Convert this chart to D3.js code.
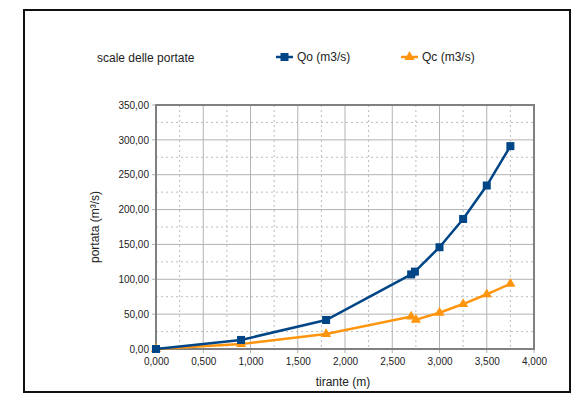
<!DOCTYPE html>
<html><head><meta charset="utf-8">
<script src="https://cdn.jsdelivr.net/npm/d3@7"></script>
<style>body{margin:0;background:#fff}svg{display:block;font-family:"Liberation Sans",Arial,sans-serif}</style>
</head><body>
<script>
const tirante = [0, 0.9, 1.8, 2.7, 2.74, 3.0, 3.25, 3.5, 3.75];
const qo = [0, 13, 41.6, 107, 111, 146, 186.5, 234.5, 291];
const qcX = [0, 0.9, 1.8, 2.7, 2.75, 3.0, 3.25, 3.5, 3.75];
const qc = [0, 7, 21.5, 46.5, 42, 52, 64.5, 78.5, 93.5];
const xTicks = [0, 0.5, 1, 1.5, 2, 2.5, 3, 3.5, 4];
const yTicks = [0, 50, 100, 150, 200, 250, 300, 350];
const seriesNames = ["Qo (m3/s)", "Qc (m3/s)"];
const colors = ["#004586", "#ff950e"];
const title = "scale delle portate";

const W = 572, H = 395;
const svg = d3.select("body").append("svg").attr("width", W).attr("height", H);
svg.append("rect").attr("x", 24).attr("y", 10).attr("width", 546).attr("height", 382)
  .attr("fill", "#fff").attr("stroke", "#111").attr("stroke-width", 2);

const L = 156, R = 534, T = 105, B = 349;
const x = d3.scaleLinear().domain([0, 4]).range([L, R]);
const y = d3.scaleLinear().domain([0, 350]).range([B, T]);
const fmtX = v => d3.format(".3f")(v).replace(".", ",");
const fmtY = v => d3.format(".2f")(v).replace(".", ",");

const g = svg.append("g");
const minorX = d3.range(0.25, 4, 0.5), minorY = d3.range(25, 350, 50);
g.selectAll(".mx").data(minorX).join("line").attr("x1", d => x(d)).attr("x2", d => x(d))
  .attr("y1", T).attr("y2", B).attr("stroke", "#bdbdbd").attr("stroke-dasharray", "2,3");
g.selectAll(".my").data(minorY).join("line").attr("y1", d => y(d)).attr("y2", d => y(d))
  .attr("x1", L).attr("x2", R).attr("stroke", "#bdbdbd").attr("stroke-dasharray", "2,3");
g.selectAll(".gx").data(xTicks).join("line").attr("x1", d => x(d)).attr("x2", d => x(d))
  .attr("y1", T).attr("y2", B + 4).attr("stroke", "#b3b3b3");
g.selectAll(".gy").data(yTicks).join("line").attr("y1", d => y(d)).attr("y2", d => y(d))
  .attr("x1", L - 4).attr("x2", R).attr("stroke", "#b3b3b3");
g.append("rect").attr("x", L).attr("y", T).attr("width", R - L).attr("height", B - T)
  .attr("fill", "none").attr("stroke", "#808080").attr("stroke-width", 2);

const xa = svg.append("g").attr("transform", `translate(0,${B})`)
  .call(d3.axisBottom(x).tickValues(xTicks).tickFormat(fmtX).tickSize(0).tickPadding(9));
xa.select(".domain").remove();
xa.selectAll("text").attr("font-size", 10).attr("fill", "#222").attr("font-family", "Liberation Sans, Arial, sans-serif");
const ya = svg.append("g").attr("transform", `translate(${L},0)`)
  .call(d3.axisLeft(y).tickValues(yTicks).tickFormat(fmtY).tickSize(0).tickPadding(7));
ya.select(".domain").remove();
ya.selectAll("text").attr("font-size", 10).attr("fill", "#222").attr("font-family", "Liberation Sans, Arial, sans-serif");

svg.append("text").attr("x", (L + R) / 2 - 2).attr("y", 386).attr("text-anchor", "middle")
  .attr("font-size", 12).attr("fill", "#222").text("tirante (m)");
svg.append("text").attr("transform", `translate(99,${(T + B) / 2}) rotate(-90)`).attr("text-anchor", "middle")
  .attr("font-size", 12).attr("fill", "#222").text("portata (m³/s)");

const line = d3.line().x(d => x(d[0])).y(d => y(d[1]));
const d1 = tirante.map((t, i) => [t, qo[i]]);
const d2 = qcX.map((t, i) => [t, qc[i]]);
svg.append("path").datum(d2).attr("d", line).attr("fill", "none").attr("stroke", colors[1]).attr("stroke-width", 2.5);
svg.append("path").datum(d1).attr("d", line).attr("fill", "none").attr("stroke", colors[0]).attr("stroke-width", 2.5);
const tri = d3.symbol().type(d3.symbolTriangle).size(45);
svg.selectAll(".tri").data(d2).join("path").attr("d", tri)
  .attr("transform", d => `translate(${x(d[0])},${y(d[1])})`).attr("fill", colors[1]);
svg.selectAll(".sq").data(d1).join("rect")
  .attr("x", d => x(d[0]) - 4).attr("y", d => y(d[1]) - 4).attr("width", 8).attr("height", 8).attr("fill", colors[0]);

svg.append("text").attr("x", 97).attr("y", 62).attr("font-size", 12).attr("fill", "#222").text(title);
const leg = [{x: 276, name: seriesNames[0], c: colors[0], sym: "sq"}, {x: 401, name: seriesNames[1], c: colors[1], sym: "tri"}];
leg.forEach(l => {
  svg.append("line").attr("x1", l.x).attr("x2", l.x + 17).attr("y1", 57).attr("y2", 57).attr("stroke", l.c).attr("stroke-width", 2.5);
  if (l.sym === "sq") svg.append("rect").attr("x", l.x + 4.5).attr("y", 53).attr("width", 8).attr("height", 8).attr("fill", l.c);
  else svg.append("path").attr("d", tri).attr("transform", `translate(${l.x + 8.5},57)`).attr("fill", l.c);
  svg.append("text").attr("x", l.x + 21).attr("y", 61).attr("font-size", 12).attr("fill", "#222").text(l.name);
});
</script>
</body></html>
